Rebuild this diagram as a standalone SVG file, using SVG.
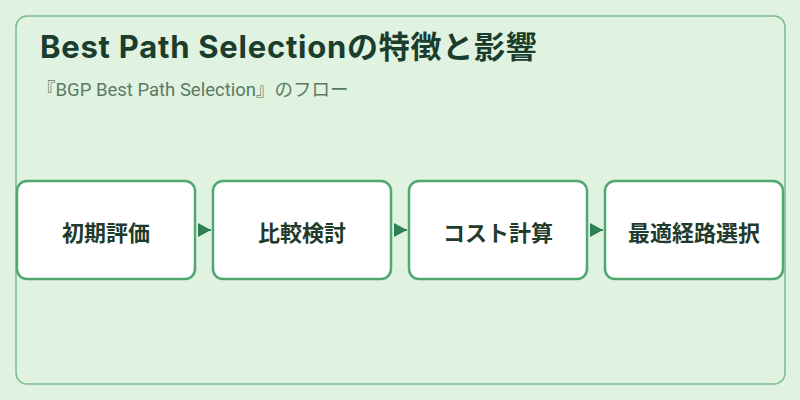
<svg xmlns="http://www.w3.org/2000/svg" width="800" height="400" viewBox="0 0 800 400">
<style>
.node rect{fill:#ffffff;stroke:#4fa872;stroke-width:2.5}
.node text{font-family:"Noto Sans CJK JP","Noto Sans",sans-serif;font-size:22px;font-weight:700;fill:#1f3b2c;text-anchor:middle;dominant-baseline:central}
.conn line{stroke:#2e8050;stroke-width:2}
</style>
<defs>
<marker id="ah" markerWidth="13" markerHeight="14" refX="13" refY="7" orient="auto" markerUnits="userSpaceOnUse">
<path d="M0,0 L13,7 L0,14 Z" fill="#2e8050"/>
</marker>
</defs>
<rect width="800" height="400" fill="#e0f2e0"/>
<rect x="16" y="16" width="769" height="368" rx="11" fill="none" stroke="#7dbb93" stroke-width="1.5"/>
<text x="40" y="58" font-family="Inter,'Noto Sans CJK JP',sans-serif" font-size="31" font-weight="700" letter-spacing="0.75" fill="#1b3d2e">Best Path Selectionの特徴と影響</text>
<text x="37" y="96" font-family="Roboto,'Noto Sans CJK JP',sans-serif" font-size="18.5" fill="#5b7a64">『BGP Best Path Selection』のフロー</text>
<g class="conn">
<line x1="198" y1="230" x2="211" y2="230" marker-end="url(#ah)"/>
<line x1="394" y1="230" x2="407" y2="230" marker-end="url(#ah)"/>
<line x1="590" y1="230" x2="603" y2="230" marker-end="url(#ah)"/>
</g>
<g id="n1" class="node"><rect x="17" y="181" width="178" height="98" rx="10"/><text x="106" y="231">初期評価</text></g>
<g id="n2" class="node"><rect x="213" y="181" width="178" height="98" rx="10"/><text x="302" y="231">比較検討</text></g>
<g id="n3" class="node"><rect x="409" y="181" width="178" height="98" rx="10"/><text x="498" y="231">コスト計算</text></g>
<g id="n4" class="node"><rect x="605" y="181" width="178" height="98" rx="10"/><text x="694" y="231">最適経路選択</text></g>
</svg>
